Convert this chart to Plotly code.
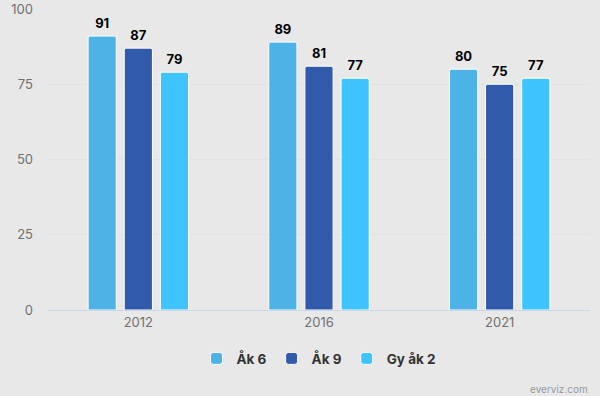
import plotly.graph_objects as go

years = ["2012", "2016", "2021"]
series_names = ["Åk 6", "Åk 9", "Gy åk 2"]
ak6 = [91, 89, 80]
ak9 = [87, 81, 75]
gy2 = [79, 77, 77]
colors = ["#4db3e6", "#325aaa", "#40c4ff"]

fig = go.Figure()
for name, vals, col in zip(series_names, [ak6, ak9, gy2], colors):
    fig.add_trace(go.Bar(
        x=years, y=vals, name=name, offsetgroup=name,
        marker=dict(color=col, line=dict(color="#ffffff", width=1), cornerradius=2),
    ))
for name, vals in zip(series_names, [ak6, ak9, gy2]):
    fig.add_trace(go.Scatter(
        x=years, y=vals, name=name, offsetgroup=name, mode="markers+text",
        marker=dict(size=6, color="rgba(0,0,0,0)"),
        text=[f"<b>{v}</b>" for v in vals], textposition="top center",
        cliponaxis=False, showlegend=False, hoverinfo="skip",
        textfont=dict(family="Inter, sans-serif", size=13, color="#000000"),
    ))

fig.update_layout(
    width=600, height=396,
    paper_bgcolor="#e8e8e8", plot_bgcolor="#e8e8e8",
    margin=dict(l=48, r=10, t=9, b=86, autoexpand=False),
    barmode="group", bargap=0.40, bargroupgap=0.22,
    scattermode="group", scattergap=0.40,
    font=dict(family="Inter, sans-serif", color="#666666", size=13),
    showlegend=True,
    legend=dict(orientation="h", x=0.5, xanchor="center", y=-0.11, yanchor="top",
                font=dict(size=13.5, color="#333333", weight="bold"),
                itemwidth=30, traceorder="normal"),
    xaxis=dict(showgrid=False, showline=True, linecolor="#ccd6eb", linewidth=1,
               ticks="", automargin=False, tickfont=dict(size=13, color="#707070")),
    yaxis=dict(range=[0, 100], tickvals=[0, 25, 50, 75, 100], showgrid=True,
               gridcolor="#e2e2e2", zeroline=False, ticks="", ticklabelstandoff=14,
               automargin=False, tickfont=dict(size=13, color="#707070")),
    annotations=[dict(text="everviz.com", xref="paper", yref="paper", x=1.0, y=-0.235,
                      xanchor="right", yanchor="top", showarrow=False,
                      font=dict(size=10, color="#999999"))],
)

fig.write_html("out.html", config={"displayModeBar": False},
               post_script="document.body.style.margin='0';document.body.style.background='#e8e8e8';")
